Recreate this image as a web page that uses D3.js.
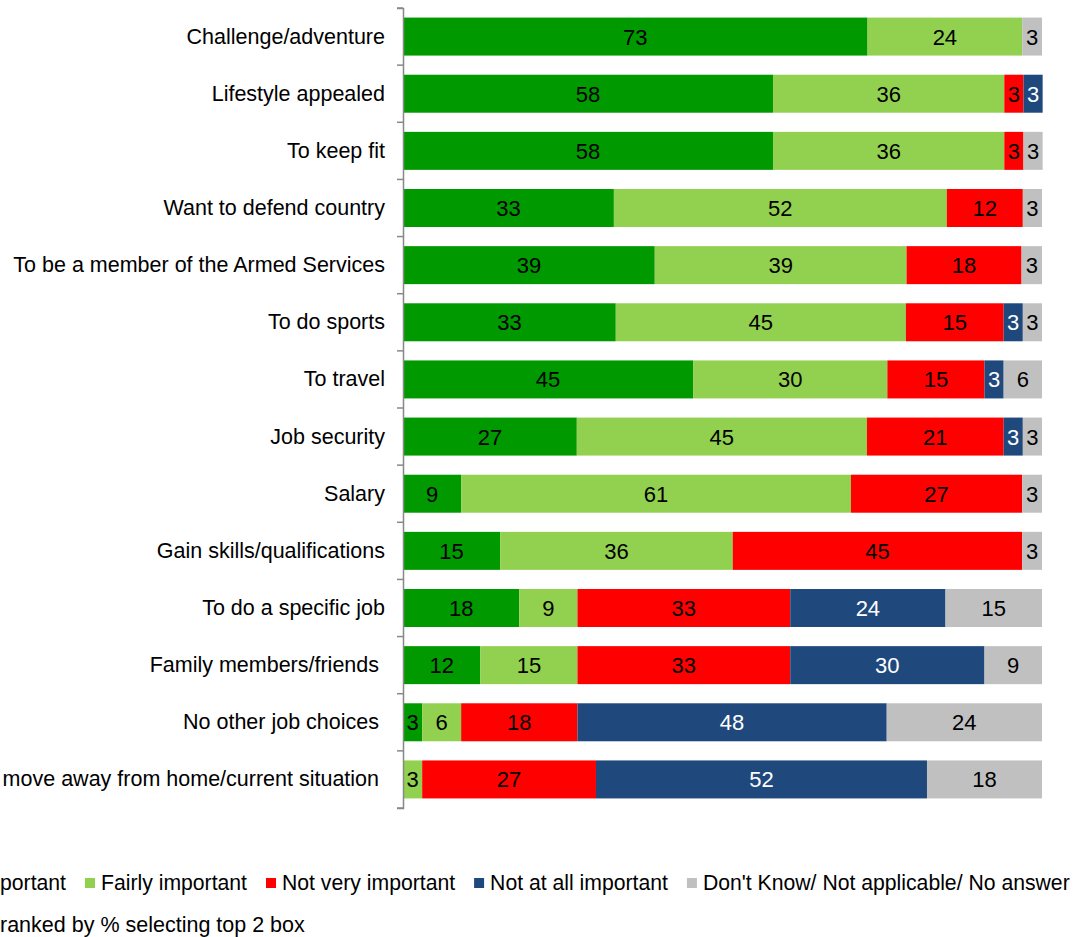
<!DOCTYPE html>
<html>
<head>
<meta charset="utf-8">
<script src="https://cdn.jsdelivr.net/npm/d3@7"></script>
<style>
  html, body { margin: 0; padding: 0; background: #fff; }
  svg { display: block; font-family: "Liberation Sans", Arial, sans-serif; }
</style>
</head>
<body>
<svg id="chart" width="1074" height="937"></svg>
<script>
const categories = [
  "Challenge/adventure",
  "Lifestyle appealed",
  "To keep fit",
  "Want to defend country",
  "To be a member of the Armed Services",
  "To do sports",
  "To travel",
  "Job security",
  "Salary",
  "Gain skills/qualifications",
  "To do a specific job",
  "Family members/friends ",
  "No other job choices ",
  "To move away from home/current situation "
];
const seriesNames = ["Very important", "Fairly important", "Not very important", "Not at all important", "Don't Know/ Not applicable/ No answer"];
const veryImportant   = [72.7, 57.9, 57.9, 33.0, 39.4, 33.3, 45.4, 27.2,  9.1, 15.2, 18.2, 12.1,  3.0,  0.0];
const fairlyImportant = [24.2, 36.2, 36.2, 52.1, 39.4, 45.4, 30.4, 45.4, 61.0, 36.4,  9.1, 15.2,  6.1,  3.0];
const notVery         = [ 0.0,  3.0,  3.0, 11.9, 18.0, 15.3, 15.2, 21.4, 26.8, 45.3, 33.3, 33.3, 18.2, 27.2];
const notAtAll        = [ 0.0,  3.0,  0.0,  0.0,  0.0,  3.0,  3.0,  3.0,  0.0,  0.0, 24.3, 30.4, 48.4, 51.8];
const dontKnow        = [ 3.1,  0.0,  3.0,  3.0,  3.2,  3.0,  6.0,  3.0,  3.1,  3.1, 15.1,  9.0, 24.3, 18.0];
const colors = ["#009900", "#92D050", "#FF0000", "#1F497D", "#C0C0C0"];
const textColors = ["#000", "#000", "#000", "#fff", "#000"];
const noteText = "ranked by % selecting top 2 box";

const seriesData = [veryImportant, fairlyImportant, notVery, notAtAll, dontKnow];
const rows = categories.map((c, i) => {
  const r = { cat: c };
  seriesData.forEach((s, k) => r["s" + k] = s[i]);
  return r;
});
const keys = seriesData.map((_, k) => "s" + k);
const stacked = d3.stack().keys(keys)(rows);

const svg = d3.select("#chart");
const x = d3.scaleLinear().domain([0, 100]).range([403, 1042]);
const y = d3.scaleBand().domain(categories).range([8, 808]).paddingInner(0.335).paddingOuter(0.1675);

// bars
const layers = svg.append("g").selectAll("g").data(stacked).join("g")
  .attr("fill", (d, k) => colors[k]);
layers.selectAll("rect").data(d => d).join("rect")
  .attr("x", d => x(d[0]))
  .attr("y", d => y(d.data.cat))
  .attr("width", d => Math.max(0, x(d[1]) - x(d[0])))
  .attr("height", y.bandwidth());

// value labels
const fmt = d3.format(".0f");
svg.append("g").selectAll("g").data(stacked).join("g")
  .attr("fill", (d, k) => textColors[k])
  .selectAll("text").data(d => d.filter(v => v[1] - v[0] > 0)).join("text")
  .attr("x", d => (x(d[0]) + x(d[1])) / 2)
  .attr("y", d => y(d.data.cat) + y.bandwidth() / 2 + 8)
  .attr("text-anchor", "middle")
  .style("font-size", "22px")
  .text(d => fmt(d[1] - d[0]));

// axis
const axisG = svg.append("g").attr("transform", "translate(403,0)")
  .call(d3.axisLeft(y).tickSize(0).tickFormat("").tickSizeOuter(6));
axisG.select(".domain").attr("stroke", "#888").attr("stroke-width", 1.5);
const step = y.step();
const bounds = categories.map(c => y(c) - step * y.paddingInner() / 2).concat([808]);
axisG.selectAll(".bt").data(bounds).join("line")
  .attr("x1", -6).attr("x2", 0)
  .attr("y1", d => d).attr("y2", d => d)
  .attr("stroke", "#888").attr("stroke-width", 1.5);

// category labels
svg.append("g").selectAll("text").data(categories).join("text")
  .attr("x", 385)
  .attr("y", d => y(d) + y.bandwidth() / 2 + 7)
  .attr("text-anchor", "end")
  .style("white-space", "pre")
  .style("font-size", "21.5px")
  .attr("fill", "#000")
  .text(d => d);

// legend
const leg = svg.append("g");
const legY = 883;
const legFont = "21.2px";
const widths = seriesNames.map(n => {
  const t = leg.append("text").style("font-size", legFont).text(n);
  const w = t.node().getComputedTextLength();
  t.remove();
  return w;
});
let lx = 66 - widths[0] - 6 - 10;
seriesNames.forEach((n, k) => {
  leg.append("rect").attr("x", lx).attr("y", legY - 5).attr("width", 10).attr("height", 10).attr("fill", colors[k]);
  leg.append("text").attr("x", lx + 16).attr("y", legY + 7).style("font-size", legFont).attr("fill", "#000").text(n);
  lx += 16 + widths[k] + 19;
});

svg.append("text").attr("x", 0).attr("y", 932).style("font-size", "21.5px").attr("fill", "#000").text(noteText);
</script>
</body>
</html>
